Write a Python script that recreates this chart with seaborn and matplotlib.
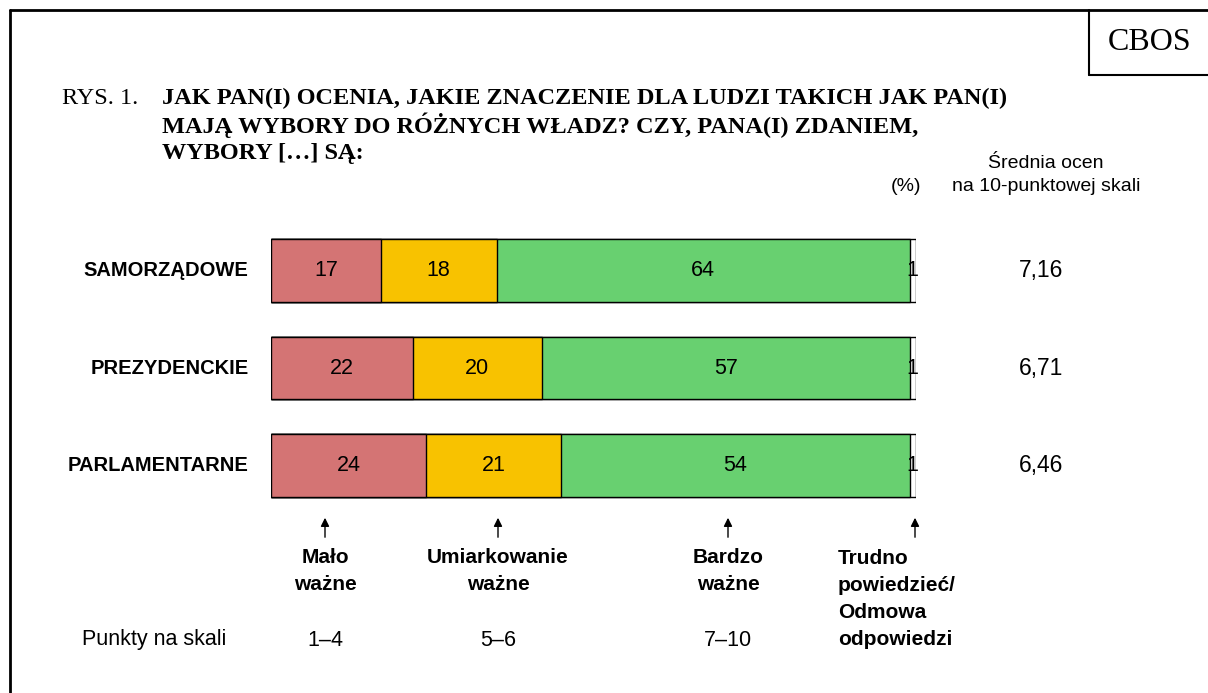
import numpy as np
import pandas as pd
import matplotlib
matplotlib.use("Agg")
import matplotlib.pyplot as plt
import seaborn as sns

categories = ["SAMORZĄDOWE", "PREZYDENCKIE", "PARLAMENTARNE"]
malo_wazne = [17, 22, 24]
umiarkowanie = [18, 20, 21]
bardzo_wazne = [64, 57, 54]
trudno = [1, 1, 1]
srednia = ["7,16", "6,71", "6,46"]

scale_labels = ["Mało\nważne", "Umiarkowanie\nważne", "Bardzo\nważne"]
scale_points = ["1–4", "5–6", "7–10"]

colors = ["#D47474", "#F8C200", "#68D070", "#FFFFFF"]

W, H = 1208, 693
sns.set_style("white")
plt.rcParams["font.family"] = ["Liberation Sans", "DejaVu Sans"]
plt.rcParams["text.color"] = "black"

fig = plt.figure(figsize=(W / 100, H / 100), dpi=100)


def px(x, y):
    return x / W, 1 - y / H


# bar axes: 0..100 across x 271..916, three rows from y 222 to 514
ax = fig.add_axes([271 / W, 1 - 514 / H, (916 - 271) / W, (514 - 222) / H])

df = pd.DataFrame({
    "cat": categories,
    "m": malo_wazne,
    "u": umiarkowanie,
    "b": bardzo_wazne,
    "t": trudno,
})
df["c1"] = df["m"]
df["c2"] = df["c1"] + df["u"]
df["c3"] = df["c2"] + df["b"]
df["c4"] = df["c3"] + df["t"]

# stacked bars: draw cumulative totals from the largest down
for col, color in zip(["c4", "c3", "c2", "c1"], colors[::-1]):
    sns.barplot(data=df, y="cat", x=col, color=color, orient="h",
                width=0.646, edgecolor="black", linewidth=1, ax=ax,
                saturation=1)

ax.set_xlim(0, 100)
ax.set_ylim(2.5, -0.5)
ax.axis("off")

for i, row in df.iterrows():
    starts = [0, row["c1"], row["c2"]]
    vals = [row["m"], row["u"], row["b"]]
    for s, v in zip(starts, vals):
        ax.text(s + v / 2, i, str(v), ha="center", va="center", fontsize=15.5)
    ax.text(row["c3"] + row["t"] / 2, i, str(row["t"]), ha="center",
            va="center", fontsize=15.5)
    ax.text(-3.5, i, row["cat"], ha="right", va="center", fontsize=14.5,
            fontweight="bold")
    ax.text(119.4, i, srednia[i], ha="center", va="center", fontsize=16.5)

# frame
fig.add_artist(plt.Line2D([10 / W, 10 / W], [0, 1 - 10 / H], color="black", lw=2))
fig.add_artist(plt.Line2D([10 / W, 1], [1 - 10 / H, 1 - 10 / H], color="black", lw=2))
fig.add_artist(plt.Line2D([1089 / W, 1089 / W], [1 - 10 / H, 1 - 75 / H], color="black", lw=1.5))
fig.add_artist(plt.Line2D([1089 / W, 1], [1 - 75 / H, 1 - 75 / H], color="black", lw=1.5))
fig.text(*px(1150, 43), "CBOS", ha="center", va="center", fontsize=23,
         family="Liberation Serif")

# title
fig.text(*px(62, 98), "RYS. 1.", ha="left", va="center", fontsize=17.5,
         family="Liberation Serif")
title_lines = ["JAK PAN(I) OCENIA, JAKIE ZNACZENIE DLA LUDZI TAKICH JAK PAN(I)",
               "MAJĄ WYBORY DO RÓŻNYCH WŁADZ? CZY, PANA(I) ZDANIEM,",
               "WYBORY […] SĄ:"]
for k, line in enumerate(title_lines):
    fig.text(*px(162, 98 + k * 27.5), line, ha="left", va="center", fontsize=17.5,
             family="Liberation Serif", fontweight="bold")

fig.text(*px(1046, 163), "Średnia ocen", ha="center", va="center", fontsize=14)
fig.text(*px(1046, 187), "na 10-punktowej skali", ha="center", va="center", fontsize=14)
fig.text(*px(906, 187), "(%)", ha="center", va="center", fontsize=14)

# arrows and scale description
arrow_x = [325, 498, 728, 915]
for xa in arrow_x:
    fig.add_artist(matplotlib.patches.FancyArrowPatch(
        px(xa, 540), px(xa, 515), arrowstyle="-|>,head_length=5,head_width=2.5",
        color="black", lw=1, transform=fig.transFigure))

for xa, lab, pts in zip(arrow_x[:3], scale_labels, scale_points):
    fig.text(*px(xa, 571), lab, ha="center", va="center", fontsize=15,
             fontweight="bold", linespacing=1.58)
    fig.text(*px(xa, 640), pts, ha="center", va="center", fontsize=15.5)

fig.text(*px(838, 599), "Trudno\npowiedzieć/\nOdmowa\nodpowiedzi", ha="left",
         va="center", fontsize=15, fontweight="bold", linespacing=1.55)
fig.text(*px(82, 640), "Punkty na skali", ha="left", va="center", fontsize=15.5)

fig.savefig("out.png", dpi=100)
